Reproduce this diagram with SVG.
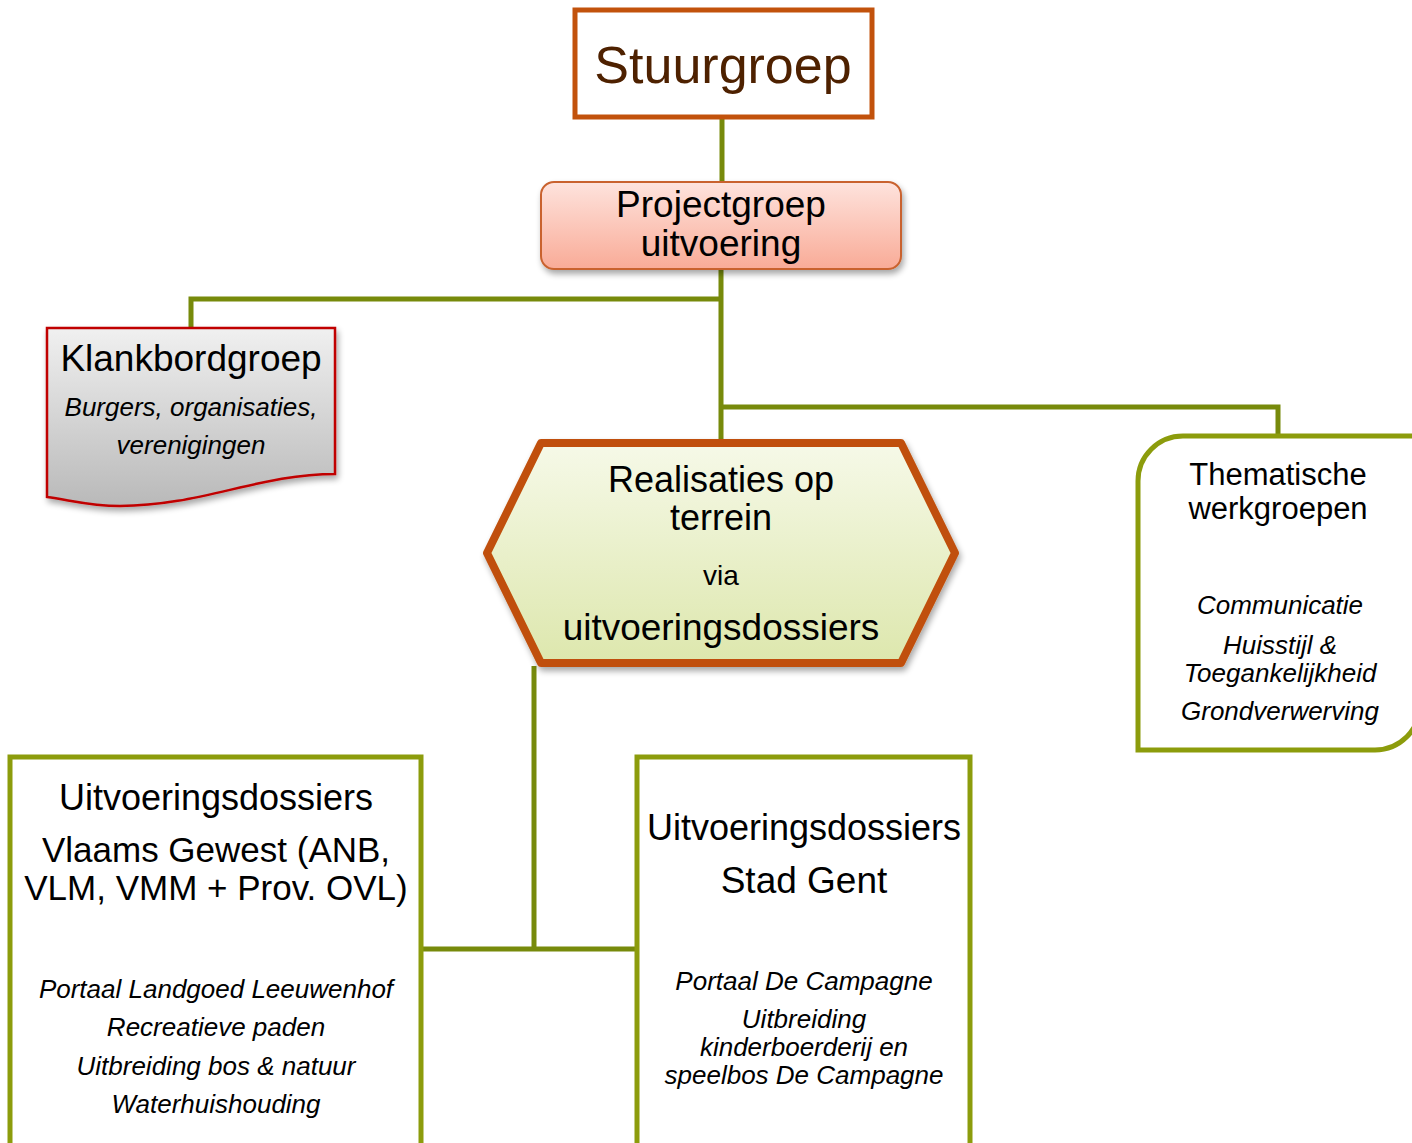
<svg xmlns="http://www.w3.org/2000/svg" width="1412" height="1143" viewBox="0 0 1412 1143">
<defs>
<linearGradient id="gPink" x1="0" y1="0" x2="0" y2="1"><stop offset="0" stop-color="#fee3dd"/><stop offset="1" stop-color="#f9ab97"/></linearGradient>
<linearGradient id="gGrey" x1="0" y1="0" x2="0" y2="1"><stop offset="0" stop-color="#f0f0f0"/><stop offset="1" stop-color="#b9b9b9"/></linearGradient>
<linearGradient id="gGreen" x1="0" y1="0" x2="0" y2="1"><stop offset="0" stop-color="#f6f9e8"/><stop offset="1" stop-color="#dde7ad"/></linearGradient>
<filter id="sh" x="-10%" y="-10%" width="125%" height="130%"><feGaussianBlur in="SourceAlpha" stdDeviation="3"/><feOffset dx="2" dy="4" result="b"/><feComponentTransfer><feFuncA type="linear" slope="0.35"/></feComponentTransfer><feMerge><feMergeNode/><feMergeNode in="SourceGraphic"/></feMerge></filter>
</defs>
<style>
text{font-family:"Liberation Sans",Arial,sans-serif;text-anchor:middle;fill:#000}
.it{font-style:italic;font-size:26px}
.conn{fill:none;stroke:#778a0b;stroke-width:5}
.obox{fill:#fff;stroke:#8c9c0c;stroke-width:5}
</style>
<rect width="1412" height="1143" fill="#fff"/>
<g id="connectors">
<path class="conn" d="M722,117 V184"/>
<path class="conn" d="M721,268 V440"/>
<path class="conn" d="M721,299 H191 V330"/>
<path class="conn" d="M721,407 H1278 V437"/>
<path class="conn" d="M534,666 V949"/>
<path class="conn" d="M422,949 H637"/>
</g>
<g id="stuurgroep">
<rect x="575" y="10" width="297" height="107" fill="#fff" stroke="#c2520c" stroke-width="5"/>
<text x="723" y="83" font-size="52" style="fill:#4e2100">Stuurgroep</text>
</g>
<g id="projectgroep">
<rect x="541" y="182" width="360" height="87" rx="13" fill="url(#gPink)" stroke="#c9622f" stroke-width="2" filter="url(#sh)"/>
<text x="721" y="217" font-size="37">Projectgroep</text>
<text x="721" y="256" font-size="37">uitvoering</text>
</g>
<g id="klankbordgroep">
<path d="M47,328 H335 V474 C260,474 200,506 120,506 C90,506 70,500 47,497 Z" fill="url(#gGrey)" stroke="#c00000" stroke-width="2.5" filter="url(#sh)"/>
<text x="191" y="371" font-size="37">Klankbordgroep</text>
<text x="191" y="416" class="it">Burgers, organisaties,</text>
<text x="191" y="454" class="it">verenigingen</text>
</g>
<g id="realisaties">
<polygon points="487,553 541,443 901,443 955,553 901,663 541,663" fill="url(#gGreen)" stroke="#c0500a" stroke-width="8" stroke-linejoin="round" filter="url(#sh)"/>
<text x="721" y="492" font-size="36">Realisaties op</text>
<text x="721" y="530" font-size="36">terrein</text>
<text x="721" y="585" font-size="28">via</text>
<text x="721" y="640" font-size="37">uitvoeringsdossiers</text>
</g>
<g id="thematische">
<path class="obox" d="M1183,436 H1420 V705 A45,45 0 0 1 1375,750 H1138 V481 A45,45 0 0 1 1183,436 Z"/>
<text x="1278" y="485" font-size="31">Thematische</text>
<text x="1278" y="519" font-size="31">werkgroepen</text>
<text x="1280" y="614" class="it">Communicatie</text>
<text x="1280" y="654" class="it">Huisstijl &amp;</text>
<text x="1280" y="682" class="it">Toegankelijkheid</text>
<text x="1280" y="720" class="it">Grondverwerving</text>
</g>
<g id="vlaams">
<rect class="obox" x="10" y="757" width="411" height="400"/>
<text x="216" y="810" font-size="36">Uitvoeringsdossiers</text>
<text x="216" y="862" font-size="35">Vlaams Gewest (ANB,</text>
<text x="216" y="900" font-size="35">VLM, VMM + Prov. OVL)</text>
<text x="216" y="998" class="it">Portaal Landgoed Leeuwenhof</text>
<text x="216" y="1036" class="it">Recreatieve paden</text>
<text x="216" y="1075" class="it">Uitbreiding bos &amp; natuur</text>
<text x="216" y="1113" class="it">Waterhuishouding</text>
</g>
<g id="gent">
<rect class="obox" x="637" y="757" width="333" height="400"/>
<text x="804" y="840" font-size="36">Uitvoeringsdossiers</text>
<text x="804" y="893" font-size="37">Stad Gent</text>
<text x="804" y="990" class="it">Portaal De Campagne</text>
<text x="804" y="1028" class="it">Uitbreiding</text>
<text x="804" y="1056" class="it">kinderboerderij en</text>
<text x="804" y="1084" class="it">speelbos De Campagne</text>
</g>
</svg>
